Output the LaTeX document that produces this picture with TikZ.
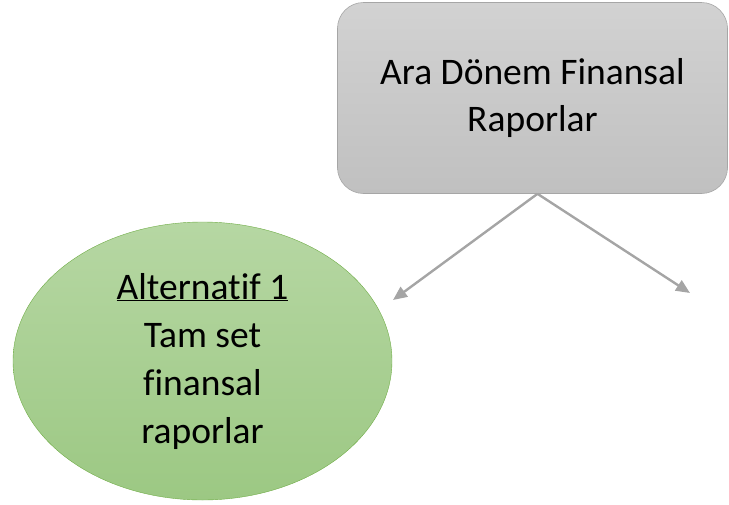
\documentclass[tikz,border=0pt]{standalone}
\usepackage{fontspec}
\setmainfont[Ligatures=NoCommon]{Carlito}
\usetikzlibrary{shapes.geometric,arrows.meta}
\definecolor{kutuust}{HTML}{D2D2D2}
\definecolor{kutualt}{HTML}{C0C0C0}
\definecolor{kutucizgi}{HTML}{A6A6A6}
\definecolor{yesilust}{HTML}{B6D7A3}
\definecolor{yesilalt}{HTML}{9CC883}
\definecolor{yesilcizgi}{HTML}{70AD47}
\definecolor{ok}{HTML}{A5A5A5}
\begin{document}
\begin{tikzpicture}[x=1pt, y=-1pt, line join=round, >={Triangle[length=14pt,width=12pt]},
	kutu/.style={draw=kutucizgi, semithick, rounded corners=26pt, top color=kutuust, bottom color=kutualt,
		minimum width=390pt, minimum height=191pt, inner sep=0pt, align=center},
	elips/.style={ellipse, draw=yesilcizgi, top color=yesilust, bottom color=yesilalt,
		minimum width=379pt, minimum height=278pt, inner sep=0pt, align=center},
	oku/.style={->, draw=ok, line width=2.4pt}]
	\useasboundingbox (0,0) rectangle (729,504);
	\node[kutu, font=\fontsize{37.5}{47}\selectfont] (ara) at (532.5,98) {Ara Dönem Finansal\\Raporlar};
	\node[elips, font=\fontsize{37.5}{48}\selectfont] (alt1) at (202.5,361) {\underline{Alternatif 1}\\Tam set\\finansal\\raporlar};
	\coordinate (sol) at (393,300);
	\coordinate (sag) at (690,293);
	\draw[oku] (ara.south) ++(5,0) coordinate (bas) -- (sol);
	\draw[oku] (bas) -- (sag);
\end{tikzpicture}
\end{document}
